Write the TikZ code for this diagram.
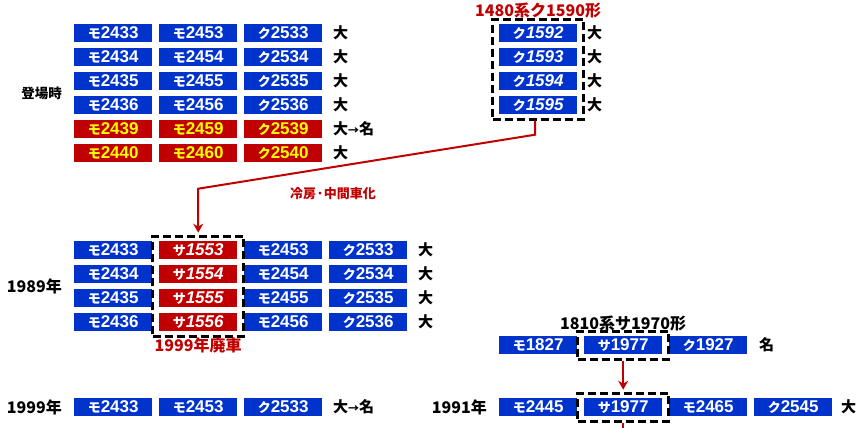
\documentclass[tikz,border=0pt]{standalone}
\usepackage{fontspec}
\setmainfont{Liberation Sans}
\newfontfamily\jpfont{Noto Sans CJK JP}[AutoFakeSlant=0.2]
\usepackage{tikz}
\usetikzlibrary{arrows.meta,matrix,positioning,fit,calc}
\definecolor{carblue}{RGB}{0,51,204}
\definecolor{carred}{RGB}{192,0,0}
\definecolor{caryellow}{RGB}{255,255,0}
\newcommand{\kana}[1]{{\jpfont\fontsize{13}{13}\selectfont #1}}
\tikzset{>={Stealth[width=10pt,length=9pt]},
         car/.style={fill=carblue, text=white, anchor=center,
           minimum width=78pt, minimum height=18pt, inner sep=0pt,
           outer sep=0pt, font=\fontsize{17}{17}\selectfont\bfseries},
         redcar/.style={car, fill=carred, text=caryellow},
         sacar/.style={car, fill=carred,
           font=\fontsize{17}{17}\selectfont\bfseries\itshape},
         kucar/.style={car, font=\fontsize{17}{17}\selectfont\bfseries\itshape},
         tag/.style={fill=none, text=black, anchor=west, minimum width=0pt,
           minimum height=0pt, font=\jpfont\fontsize{15}{15}\selectfont\bfseries},
         year/.style={inner sep=0pt, font=\jpfont\fontsize{16}{16}\selectfont\bfseries},
         note/.style={year, text=carred},
         dashbox/.style={draw, line width=3pt, dash pattern=on 8pt off 4pt,
           inner xsep=6.5pt, inner ysep=5pt},
         redline/.style={draw=carred, line width=2pt}}
\newcommand{\tonagoya}{大{\fontsize{11}{11}\selectfont →}名}
\begin{document}
\begin{tikzpicture}[x=1pt,y=-1pt]
  \useasboundingbox (0,0) rectangle (856,428);
  % as built
  \matrix (debut) [matrix of nodes, row sep=6pt, column sep=7pt, inner sep=0pt,
    anchor=north west, nodes={car}, column 4/.style={nodes={tag}}] at (74,24) {
    \kana{モ}2433 & \kana{モ}2453 & \kana{ク}2533 &[4pt] 大 \\
    \kana{モ}2434 & \kana{モ}2454 & \kana{ク}2534 & 大 \\
    \kana{モ}2435 & \kana{モ}2455 & \kana{ク}2535 & 大 \\
    \kana{モ}2436 & \kana{モ}2456 & \kana{ク}2536 & 大 \\
    |[redcar]| \kana{モ}2439 & |[redcar]| \kana{モ}2459 & |[redcar]| \kana{ク}2539 & \tonagoya \\
    |[redcar]| \kana{モ}2440 & |[redcar]| \kana{モ}2460 & |[redcar]| \kana{ク}2540 & 大 \\
  };
  \node[year, font=\jpfont\fontsize{13.5}{13.5}\selectfont\bfseries,
    left=12pt of debut.west] (debutlabel) {登場時};
  % 1480 series trailers
  \matrix (kuha) [matrix of nodes, row sep=6pt, column sep=7pt, inner sep=0pt,
    anchor=north west, nodes={kucar}, column 2/.style={nodes={tag}}] at (499,24) {
    \kana{ク}1592 &[3pt] 大 \\
    \kana{ク}1593 & 大 \\
    \kana{ク}1594 & 大 \\
    \kana{ク}1595 & 大 \\
  };
  \node[dashbox, fit=(kuha-1-1)(kuha-4-1)] (kuhabox) {};
  \node[note, above=-1pt of kuhabox] (kuhatitle) {1480系ク1590形};
  % 1989
  \matrix (m89) [matrix of nodes, row sep=6pt, column sep=7pt, inner sep=0pt,
    anchor=north west, nodes={car}, column 2/.style={nodes={sacar}},
    column 5/.style={nodes={tag}}] at (74,241) {
    \kana{モ}2433 & \kana{サ}1553 & \kana{モ}2453 & \kana{ク}2533 &[4pt] 大 \\
    \kana{モ}2434 & \kana{サ}1554 & \kana{モ}2454 & \kana{ク}2534 & 大 \\
    \kana{モ}2435 & \kana{サ}1555 & \kana{モ}2455 & \kana{ク}2535 & 大 \\
    \kana{モ}2436 & \kana{サ}1556 & \kana{モ}2456 & \kana{ク}2536 & 大 \\
  };
  \node[year, left=12pt of m89.west] (y89) {1989年};
  \node[dashbox, fit=(m89-1-2)(m89-4-2)] (sabox) {};
  \node[note, below=0pt of sabox] (scrap) {1999年廃車};
  \draw[redline, ->, shorten >=2pt] ([xshift=-3pt]kuhabox.south) -- ++(0,14)
    -- node[note, font=\jpfont\fontsize{13}{13}\selectfont\bfseries, pos=0.6,
       below=19pt] (cool) {冷房·中間車化}
    ($(sabox.north)+(0,-46)$) -- (sabox.north);
  % 1999
  \matrix (m99) [matrix of nodes, column sep=7pt, inner sep=0pt,
    anchor=north west, nodes={car}, column 4/.style={nodes={tag}}] at (74,398) {
    \kana{モ}2433 & \kana{モ}2453 & \kana{ク}2533 &[4pt] \tonagoya \\
  };
  \node[year, left=12pt of m99.west] (y99) {1999年};
  % 1810 series
  \matrix (m1810) [matrix of nodes, column sep=7pt, inner sep=0pt,
    anchor=north west, nodes={car}, column 4/.style={nodes={tag}}] at (499,336) {
    \kana{モ}1827 & \kana{サ}1977 & \kana{ク}1927 &[5pt] 名 \\
  };
  \node[dashbox, fit=(m1810-1-2)] (sbox) {};
  \node[year, above=-1.5pt of sbox] (stitle) {1810系サ1970形};
  % 1991
  \matrix (m91) [matrix of nodes, column sep=7pt, inner sep=0pt,
    anchor=north west, nodes={car}, column 5/.style={nodes={tag}}] at (499,398) {
    \kana{モ}2445 & \kana{サ}1977 & \kana{モ}2465 & \kana{ク}2545 &[2pt] 大 \\
  };
  \node[year, left=12pt of m91.west] (y91) {1991年};
  \node[dashbox, fit=(m91-1-2)] (sbox91) {};
  \draw[redline, ->, shorten >=2pt] (sbox.south) -- (sbox91.north);
  \draw[redline] (sbox91.south) -- ++(0,12);
\end{tikzpicture}
\end{document}
